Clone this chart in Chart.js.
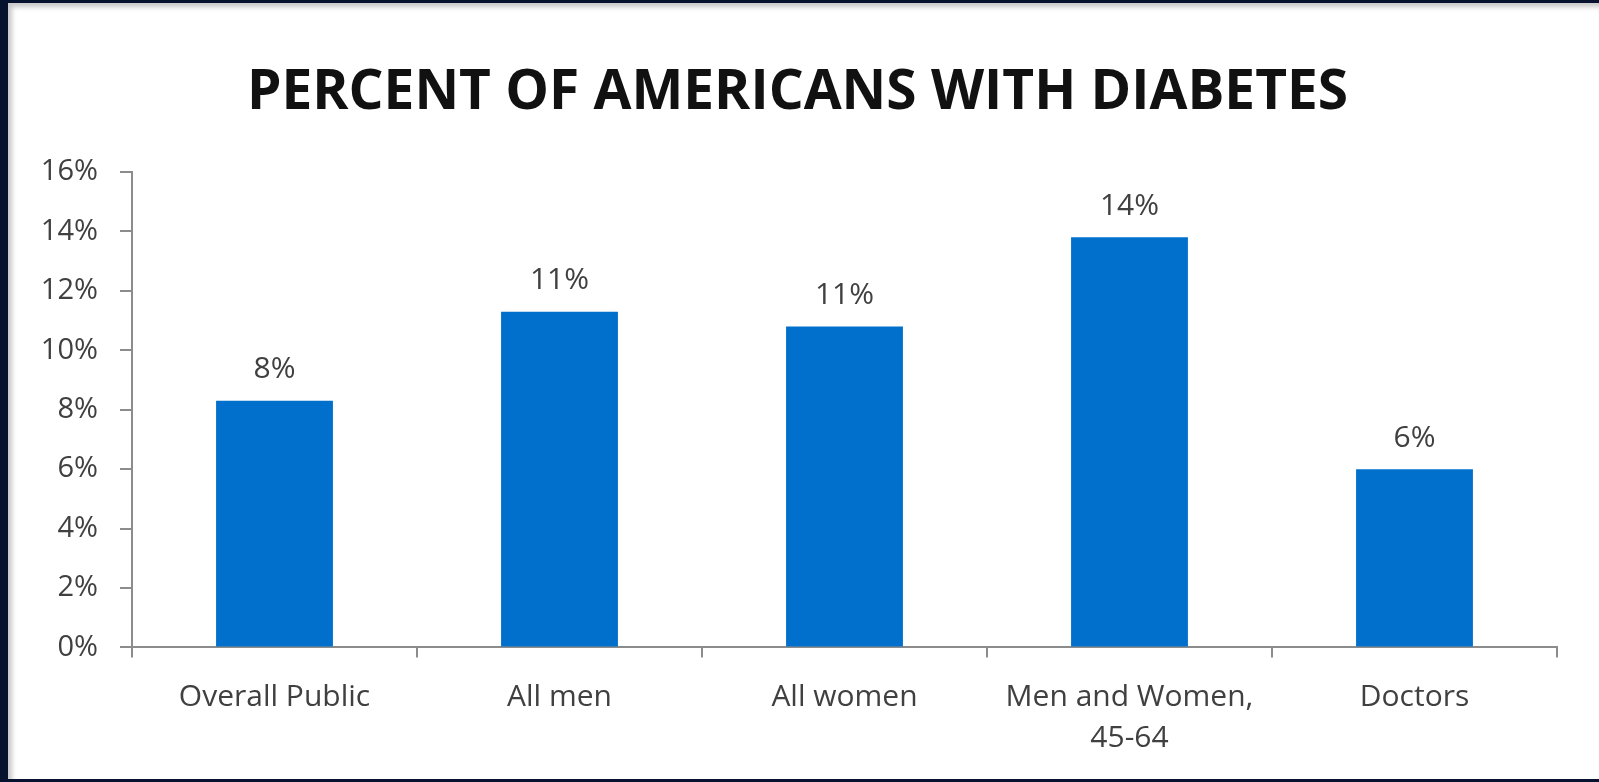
<!DOCTYPE html>
<html>
<head>
<meta charset="utf-8">
<script src="https://cdn.jsdelivr.net/npm/chart.js@4/dist/chart.umd.min.js"></script>
<style>
  html, body { margin: 0; padding: 0; background: #07122e; }
  #panel {
    position: absolute; left: 8px; top: 3px; width: 1591px; height: 776px;
    background: #fff;
    box-shadow: inset 4px 4px 5px rgba(0,0,0,0.22);
  }
  #panel canvas { position: absolute; left: 0; top: 0; }
</style>
</head>
<body>
<div id="panel"><canvas id="diabetes" width="1591" height="776"></canvas></div>
<script>
var categories = ['Overall Public', 'All men', 'All women', ['Men and Women,', '45-64'], 'Doctors'];
var percentWithDiabetes = [8.3, 11.3, 10.8, 13.8, 6.0];
var yTicks = [0, 2, 4, 6, 8, 10, 12, 14, 16];

// value labels above each bar
var barLabels = {
  id: 'barLabels',
  afterDatasetsDraw: function (chart) {
    var c = chart.ctx;
    var meta = chart.getDatasetMeta(0);
    c.save();
    c.font = '30px "Open Sans"';
    c.fillStyle = '#404040';
    c.textAlign = 'center';
    c.textBaseline = 'middle';
    meta.data.forEach(function (bar, i) {
      c.fillText(Math.round(percentWithDiabetes[i]) + '%', bar.x, bar.y - 31);
    });
    c.restore();
  }
};

var ctx = document.getElementById('diabetes').getContext('2d');
var myChart = new Chart(ctx, {
  type: 'bar',
  data: {
    labels: categories,
    datasets: [{
      data: percentWithDiabetes,
      backgroundColor: '#0070cc',
      barPercentage: 0.41,
      categoryPercentage: 1
    }]
  },
  options: {
    responsive: false,
    animation: false,
    layout: { padding: { left: 30, right: 42, top: 0, bottom: 0 } },
    plugins: {
      legend: { display: false },
      tooltip: { enabled: false },
      title: {
        display: true,
        text: 'PERCENT OF AMERICANS WITH DIABETES',
        color: '#111',
        font: { family: '"Open Sans"', size: 55, weight: 'bold', lineHeight: 1.2 },
        padding: { top: 57, bottom: 46 }
      }
    },
    scales: {
      x: {
        grid: { drawOnChartArea: false, color: '#8c8c8c', tickLength: 10, lineWidth: 2 },
        border: { color: '#8c8c8c', width: 2 },
        ticks: {
          color: '#404040',
          padding: 20,
          maxRotation: 0,
          font: { family: '"Open Sans"', size: 30, lineHeight: 1.36 }
        }
      },
      y: {
        min: 0,
        max: 16,
        afterBuildTicks: function (scale) {
          scale.ticks = yTicks.map(function (v) { return { value: v }; });
        },
        afterFit: function (scale) { scale.width = 94; },
        grid: { drawOnChartArea: false, color: '#8c8c8c', tickLength: 12, lineWidth: 2 },
        border: { color: '#8c8c8c', width: 2 },
        ticks: {
          color: '#404040',
          padding: 22,
          font: { family: '"Open Sans"', size: 29 },
          callback: function (v) { return v + '%'; }
        }
      }
    }
  },
  plugins: [barLabels]
});
</script>
</body>
</html>
